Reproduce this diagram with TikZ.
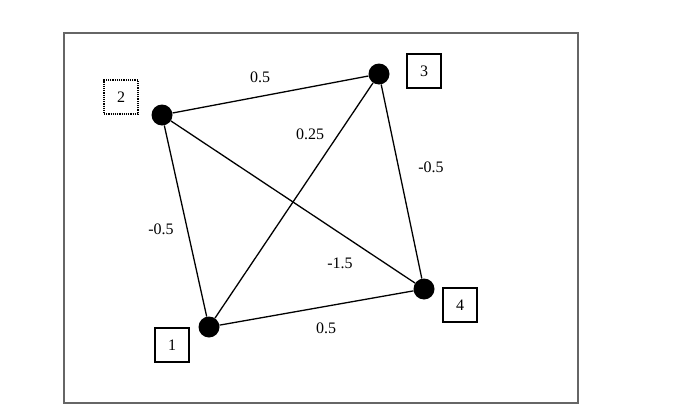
\documentclass[tikz,border=0pt]{standalone}
\usepackage{fontspec}
\setmainfont{Liberation Serif}
\begin{document}
\begin{tikzpicture}[x=1pt,y=-1pt,
  dot/.style={circle,fill=black,minimum size=21pt,inner sep=0pt},
  lbox/.style={draw,line width=1.2pt,minimum size=34pt,inner sep=0pt,font=\fontsize{16}{18}\selectfont},
  elab/.style={font=\fontsize{16}{18}\selectfont,inner sep=1pt},
  edge/.style={line width=1.3pt}]
\useasboundingbox (0,0) rectangle (691,415);
\draw[line width=1.4pt,black!60] (64,33) rectangle (578,403);
\node[dot] (n2) at (162,115) {};
\node[dot] (n3) at (379,74) {};
\node[dot] (n4) at (424,289) {};
\node[dot] (n1) at (209,327) {};
\node[lbox,densely dotted,line width=1.6pt] (b2) at (121,97) {2};
\node[lbox] (b3) at (424,71) {3};
\node[lbox] (b4) at (460,305) {4};
\node[lbox] (b1) at (172,345) {1};
\draw[edge] (n2) -- (n3);
\draw[edge] (n2) -- (n1);
\draw[edge] (n2) -- (n4);
\draw[edge] (n3) -- (n1);
\draw[edge] (n3) -- (n4);
\draw[edge] (n1) -- (n4);
\node[elab] (e23) at (260,77) {0.5};
\node[elab] (e31) at (310,134) {0.25};
\node[elab] (e34) at (431,167) {-0.5};
\node[elab] (e21) at (161,229) {-0.5};
\node[elab] (e24) at (340,263) {-1.5};
\node[elab] (e14) at (326,328) {0.5};
\end{tikzpicture}
\end{document}
